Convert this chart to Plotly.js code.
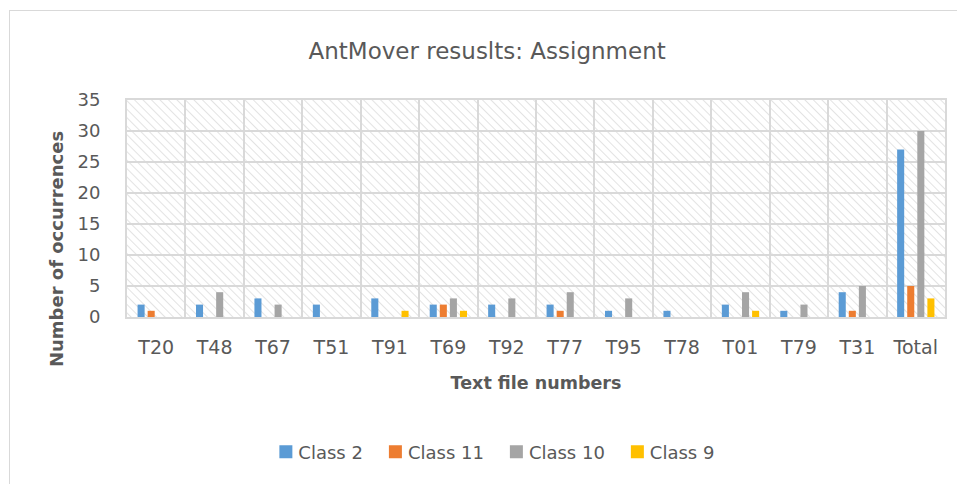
<!DOCTYPE html>
<html>
<head>
<meta charset="utf-8">
<script src="https://cdn.plot.ly/plotly-3.0.1.min.js"></script>
<style>
  html, body { margin: 0; padding: 0; background: #ffffff; }
  #frame { position: absolute; left: 9px; top: 10px; width: 960px; height: 490px; border: 1px solid #d9d9d9; box-sizing: border-box; }
  #chart { position: absolute; left: 0; top: 0; width: 957px; height: 484px; }
</style>
</head>
<body>
<div id="frame"></div>
<div id="chart"></div>
<script>
const categories = ["T20", "T48", "T67", "T51", "T91", "T69", "T92", "T77", "T95", "T78", "T01", "T79", "T31", "Total"];
const class2  = [2, 2, 3, 2, 3, 2, 2, 2, 1, 1, 2, 1, 4, 27];
const class11 = [1, 0, 0, 0, 0, 2, 0, 1, 0, 0, 0, 0, 1, 5];
const class10 = [0, 4, 2, 0, 0, 3, 3, 4, 3, 0, 4, 2, 5, 30];
const class9  = [0, 0, 0, 0, 1, 1, 0, 0, 0, 0, 1, 0, 0, 3];
const yTicks = [0, 5, 10, 15, 20, 25, 30, 35];

const seriesNames = ["Class 2", "Class 11", "Class 10", "Class 9"];
const seriesColors = ["#5b9bd5", "#ed7d31", "#a5a5a5", "#ffc000"];
const seriesValues = [class2, class11, class10, class9];

const FONT = "DejaVu Sans, sans-serif";
const traces = seriesValues.map((vals, i) => ({
  type: "bar",
  name: seriesNames[i],
  x: categories,
  y: vals,
  marker: { color: seriesColors[i], line: { width: 0 } },
  hoverinfo: "x+y+name"
}));

const layout = {
  width: 957,
  height: 484,
  margin: { l: 127, r: 12, t: 100, b: 167 },
  paper_bgcolor: "rgba(0,0,0,0)",
  plot_bgcolor: "#ffffff",
  barmode: "group",
  bargap: 0.31,
  bargroupgap: 0.3,
  title: {
    text: "AntMover resuslts: Assignment",
    x: 0.509, xanchor: "center",
    y: 0.895, yanchor: "middle",
    font: { family: FONT, size: 23, color: "#595959" }
  },
  xaxis: {
    type: "category",
    tickson: "boundaries",
    showgrid: true,
    gridcolor: "#d9d9d9",
    gridwidth: 2,
    ticks: "",
    ticklabelstandoff: 12,
    showline: true,
    linecolor: "#d9d9d9",
    linewidth: 2,
    mirror: true,
    tickfont: { family: FONT, size: 19, color: "#595959" },
    title: { text: "Text file numbers", standoff: 20, font: { family: FONT, size: 17.5, color: "#595959", weight: "bold" } }
  },
  yaxis: {
    range: [0, 35],
    tickvals: yTicks,
    showgrid: true,
    gridcolor: "#d9d9d9",
    gridwidth: 2,
    zeroline: false,
    showline: true,
    linecolor: "#d9d9d9",
    linewidth: 2,
    mirror: true,
    ticks: "",
    ticklen: 0,
    ticklabelstandoff: 21,
    tickfont: { family: FONT, size: 18, color: "#595959" }
  },
  annotations: [{
    text: "<b>Number of occurrences</b>",
    textangle: -90,
    xref: "paper", yref: "paper",
    x: -0.0868, xanchor: "center",
    y: 0.313, yanchor: "middle",
    showarrow: false,
    font: { family: FONT, size: 18, color: "#595959" }
  }],
  legend: {
    orientation: "h",
    x: 0.443, xanchor: "center",
    y: -0.622, yanchor: "middle",
    font: { family: FONT, size: 18, color: "#595959" },
    itemwidth: 30,
    traceorder: "normal"
  },
  showlegend: true
};

Plotly.newPlot("chart", traces, layout, { displayModeBar: false, staticPlot: true }).then(gd => {
  const svg = gd.querySelector("svg.main-svg");
  const ns = "http://www.w3.org/2000/svg";
  let defs = svg.querySelector("defs");
  if (!defs) { defs = document.createElementNS(ns, "defs"); svg.insertBefore(defs, svg.firstChild); }
  const pat = document.createElementNS(ns, "pattern");
  pat.setAttribute("id", "hatchbg");
  pat.setAttribute("patternUnits", "userSpaceOnUse");
  pat.setAttribute("width", "6");
  pat.setAttribute("height", "6");
  pat.setAttribute("patternTransform", "rotate(-45)");
  const r = document.createElementNS(ns, "rect");
  r.setAttribute("width", "6"); r.setAttribute("height", "6"); r.setAttribute("fill", "#ffffff");
  const l = document.createElementNS(ns, "line");
  l.setAttribute("x1", "0"); l.setAttribute("y1", "0"); l.setAttribute("x2", "0"); l.setAttribute("y2", "6");
  l.setAttribute("stroke", "#e3e3e3"); l.setAttribute("stroke-width", "2");
  pat.appendChild(r); pat.appendChild(l);
  defs.appendChild(pat);
  gd.querySelectorAll("rect.bg").forEach(bg => { bg.style.fill = "url(#hatchbg)"; });
  gd.querySelectorAll(".legend .legendpoints path").forEach(p => {
    p.setAttribute("d", "M14,6.5H1V-6.5H14Z");
  });
});
</script>
</body>
</html>
